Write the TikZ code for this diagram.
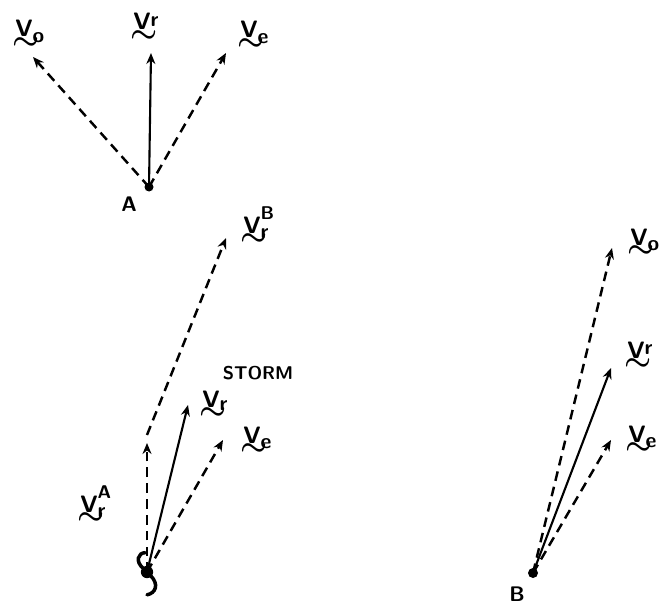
\documentclass[tikz,border=0pt]{standalone}
\usepackage{amsmath,amssymb}
\usepackage{tikz}
\usetikzlibrary{arrows.meta,positioning,calc}
\newcommand{\vtil}[3][]{\makebox[0pt][l]{\hspace{-1.5pt}\raisebox{-7pt}{\fontsize{16}{16}\selectfont$\boldsymbol{\sim}$}}V\makebox[0pt][l]{\raisebox{7.5pt}{\fontsize{10.5}{10.5}\selectfont #1}}\raisebox{#3}{\fontsize{12}{12}\selectfont #2}}
\tikzset{
  vec/.style={-{Stealth[length=2.2mm,width=1.8mm]}, line width=1.2pt, black},
  dvec/.style={vec, line width=1.4pt, dash pattern=on 5.5pt off 3.5pt},
  lbl/.style={font=\sffamily\bfseries\fontsize{13.5}{13.5}\selectfont, inner sep=0pt, anchor=base west},
  pt/.style={font=\sffamily\bfseries\fontsize{12}{12}\selectfont, inner sep=0pt},
  tag/.style={font=\sffamily\bfseries\fontsize{10.5}{10.5}\selectfont, inner sep=0pt},
  dot/.style={circle, fill=black, inner sep=0pt, minimum size=1.8mm},
}
\begin{document}
\begin{tikzpicture}[x=0.02cm, y=-0.02cm]
  \useasboundingbox (0,0) rectangle (659,608);
  \node[dot] (a) at (149,187) {};
  \node[pt] (alab) at (129,204) {A};
  \coordinate (ao) at (33,57);
  \coordinate (ar) at (151,53);
  \coordinate (ae) at (226,53);
  \node[lbl] (aolab) at (15,37) {\vtil{o}{-3pt}};
  \node[lbl] (arlab) at (133,30) {\vtil{r}{2pt}};
  \node[lbl] (aelab) at (240,38) {\vtil{e}{-3pt}};
  \draw[dvec] (a.center) -- (ao);
  \draw[vec] (a.center) -- (ar);
  \draw[dvec] (a.center) -- (ae);

  \coordinate (storm) at (147,572);
  \coordinate (sa) at (147,443);
  \coordinate (sb) at (226,238);
  \coordinate (sr) at (188,405);
  \coordinate (se) at (223,440);
  \node[lbl] (sblab) at (243,233) {\vtil[B]{r}{-3pt}};
  \node[tag] (stlab) at (258,373) {STORM};
  \node[lbl] (srlab) at (202,407) {\vtil{r}{-2pt}};
  \node[lbl] (selab) at (243,443) {\vtil{e}{-3pt}};
  \node[lbl] (salab) at (80,512) {\vtil[A]{r}{-3pt}};
  \draw[dvec] (storm) -- (sa);
  \draw[dvec] ($(sa)+(0,-8)$) -- (sb);
  \draw[vec] (storm) -- (sr);
  \draw[dvec] (storm) -- (se);
  \fill (storm) circle (3.5pt);
  \draw[line width=2pt, line cap=round] ($(storm)+(-2pt,2pt)$) .. controls ($(storm)+(-7pt,6pt)$) and ($(storm)+(-5pt,11pt)$) .. ($(storm)+(-1pt,11pt)$);
  \draw[line width=2pt, line cap=round] ($(storm)+(2pt,-2pt)$) .. controls ($(storm)+(7pt,-7pt)$) and ($(storm)+(5pt,-12pt)$) .. ($(storm)+(0pt,-13pt)$);

  \node[dot, minimum size=2mm] (b) at (533,573) {};
  \node[pt] (blab) at (517,594) {B};
  \coordinate (bo) at (612,248);
  \coordinate (br) at (611,368);
  \coordinate (be) at (611,440);
  \node[lbl] (bolab) at (630,245) {\vtil{o}{-3pt}};
  \node[lbl] (brlab) at (627,358) {\vtil{r}{2pt}};
  \node[lbl] (belab) at (628,442) {\vtil{e}{-3pt}};
  \draw[dvec] (b.center) -- (bo);
  \draw[vec] (b.center) -- (br);
  \draw[dvec] (b.center) -- (be);
\end{tikzpicture}
\end{document}
